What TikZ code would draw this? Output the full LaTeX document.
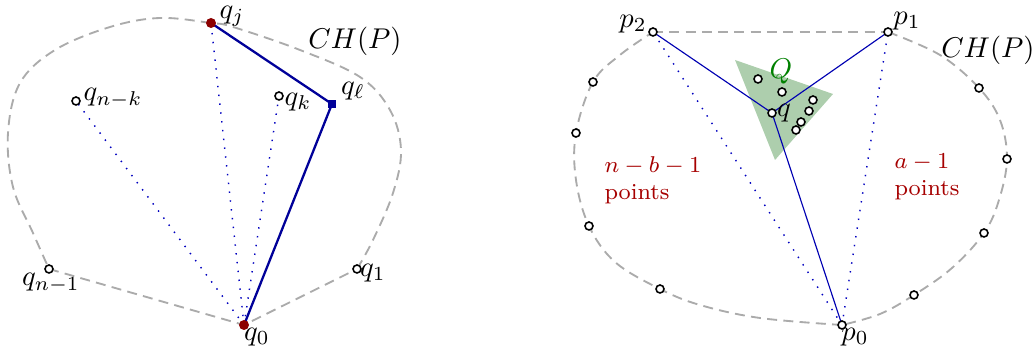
\documentclass[tikz,border=0pt]{standalone}
\usepackage{amsmath}
\begin{document}
\begin{tikzpicture}[x=0.35pt,y=-0.35pt,
  hull/.style={draw=black!33,line width=0.65pt,dash pattern=on 3.5pt off 2.2pt},
  opt/.style={circle,draw=black,fill=white,line width=0.55pt,inner sep=0pt,minimum size=2.8pt},
  redpt/.style={circle,fill=red!55!black,inner sep=0pt,minimum size=3.5pt},
  sqpt/.style={rectangle,fill=blue!60!black,inner sep=0pt,minimum size=2.9pt},
  thickedge/.style={draw=blue!60!black,line width=0.8pt},
  thinedge/.style={draw=blue!70!black,line width=0.4pt},
  dotedge/.style={draw=blue!75!black,line width=0.5pt,dash pattern=on 0.5pt off 2.6pt},
  lbl/.style={inner sep=0pt},
  redlbl/.style={inner sep=0pt,anchor=north west,align=left,text=red!65!black,font=\footnotesize}]
\useasboundingbox (0,0) rectangle (1033,351);

% ---------- left figure ----------
\coordinate (qj) at (211,23);
\coordinate (ql) at (332,104);
\coordinate (q0) at (244,325);
\coordinate (qk) at (279,96);
\coordinate (qnk) at (76,101);
\coordinate (qn1) at (49,269);
\coordinate (q1) at (357,269);

\draw[hull] (qn1) -- (q0) -- (q1);
\draw[hull] plot[smooth,tension=0.6] coordinates {(q1) (373,240) (393,193) (401,150) (390,110) (360,77) (300,50) (233,27) (qj) (160,18) (110,27) (55,50) (20,83) (8,133) (13,187) (33,233) (qn1)};

\draw[dotedge] (q0) -- (qnk);
\draw[dotedge] (q0) -- (qj);
\draw[dotedge] (q0) -- (qk);
\draw[thickedge] (qj) -- (ql) -- (q0);

\node[redpt] (Nqj) at (qj) {};
\node[redpt] (Nq0) at (q0) {};
\node[sqpt] (Nql) at (ql) {};
\node[opt] (Nqk) at (qk) {};
\node[opt] (Nqnk) at (qnk) {};
\node[opt] (Nqn1) at (qn1) {};
\node[opt] (Nq1) at (q1) {};

\node[lbl] (Lqj) at (232,16) {$q_j$};
\node[lbl] (Lql) at (353,91) {$q_\ell$};
\node[lbl] (Lqk) at (298,102) {$q_k$};
\node[lbl] (Lqnk) at (113,98) {$q_{n-k}$};
\node[lbl] (Lqn1) at (51,283) {$q_{n-1}$};
\node[lbl] (Lq1) at (373,273) {$q_1$};
\node[lbl] (Lq0) at (257,337) {$q_0$};
\node[lbl] (Lch1) at (355,41) {$CH(P)$};

% ---------- right figure ----------
\coordinate (p2) at (653,32);
\coordinate (p1) at (888,32);
\coordinate (p0) at (842,325);
\coordinate (q) at (772,113);

\fill[green!40!black,opacity=0.32] (735,60) -- (833,94) -- (775,160) -- cycle;

\draw[hull] (p2) -- (p1);
\draw[hull] plot[smooth,tension=0.6] coordinates {(p1) (940,55) (979,88) (1000,120) (1007,159) (999,200) (984,233) (952,268) (914,295) (880,314) (p0)};
\draw[hull] plot[smooth,tension=0.6] coordinates {(p0) (760,318) (700,305) (660,289) (615,262) (589,226) (576,180) (576,133) (593,82) (620,55) (p2)};

\draw[dotedge] (p0) -- (p2);
\draw[dotedge] (p0) -- (p1);
\draw[thinedge] (q) -- (p2);
\draw[thinedge] (q) -- (p1);
\draw[thinedge] (q) -- (p0);

\node[opt] (Np2) at (p2) {};
\node[opt] (Np1) at (p1) {};
\node[opt] (Np0) at (p0) {};
\node[opt] (Nq) at (q) {};
\foreach \i/\p in {a/{(758,79)},b/{(782,92)},c/{(813,100)},d/{(809,111)},e/{(801,122)},f/{(796,130)},
  g/{(593,82)},h/{(576,133)},i/{(589,226)},j/{(660,289)},k/{(914,295)},l/{(984,233)},m/{(1007,159)},n/{(979,88)}}
  \node[opt] (P\i) at \p {};

\node[lbl] (Lp2) at (633,24) {$p_2$};
\node[lbl] (Lp1) at (907,21) {$p_1$};
\node[lbl] (Lp0) at (855,337) {$p_0$};
\node[lbl] (Lq) at (784,113) {$q$};
\node[lbl,text=green!50!black] (LQ) at (781,72) {$Q$};
\node[lbl] (Lch2) at (988,50) {$CH(P)$};
\node[redlbl] (Lnb) at (604,156) {$n-b-1$\\points};
\node[redlbl] (La) at (894,153) {$a-1$\\points};
\end{tikzpicture}
\end{document}
